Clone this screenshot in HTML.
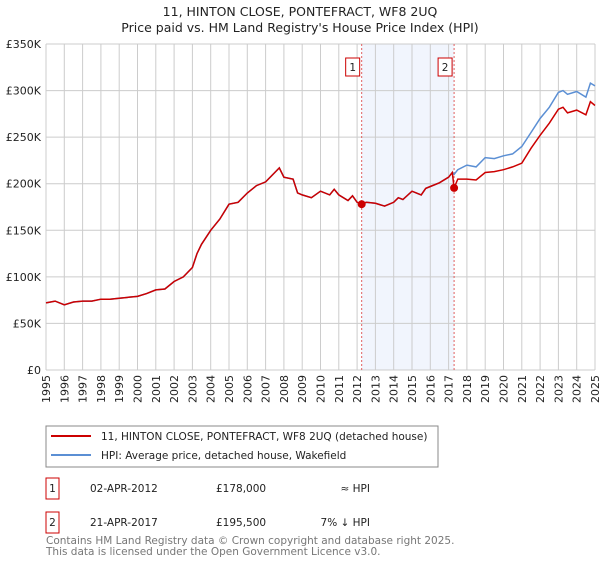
<!DOCTYPE html>
<html><head><meta charset="utf-8"><style>
body{margin:0;background:#fff;font-family:"Liberation Sans","DejaVu Sans",sans-serif;}
svg text{font-family:"DejaVu Sans","Liberation Sans",sans-serif;}
</style></head><body>
<svg id="c" width="600" height="560" viewBox="0 0 600 560" xmlns="http://www.w3.org/2000/svg">
<text x="300" y="16" text-anchor="middle" font-size="12.5" fill="#222">11, HINTON CLOSE, PONTEFRACT, WF8 2UQ</text>
<text x="300" y="32" text-anchor="middle" font-size="12.5" fill="#222">Price paid vs. HM Land Registry's House Price Index (HPI)</text>
<g id="grid"></g><g id="marks"></g>
<g>
<rect x="46" y="426" width="392" height="41" fill="#fff" stroke="#888"/>
<line x1="51" y1="436" x2="91" y2="436" stroke="#cc0000" stroke-width="2"/>
<text x="101" y="440" font-size="10.5" fill="#222">11, HINTON CLOSE, PONTEFRACT, WF8 2UQ (detached house)</text>
<line x1="51" y1="455" x2="91" y2="455" stroke="#5b8fd4" stroke-width="2"/>
<text x="101" y="459" font-size="10.5" fill="#222">HPI: Average price, detached house, Wakefield</text>
</g>
<g font-size="10.5" fill="#222">
<rect x="46" y="478" width="13" height="21" fill="#fff" stroke="#cc0000"/><text x="52.5" y="492" text-anchor="middle">1</text>
<text x="90" y="492">02-APR-2012</text><text x="216" y="492">£178,000</text><text x="370" y="492" text-anchor="end">≈ HPI</text>
<rect x="46" y="512" width="13" height="21" fill="#fff" stroke="#cc0000"/><text x="52.5" y="526" text-anchor="middle">2</text>
<text x="90" y="526">21-APR-2017</text><text x="216" y="526">£195,500</text><text x="370" y="526" text-anchor="end">7% ↓ HPI</text>
</g>
<text x="46" y="544" font-size="10.5" fill="#777">Contains HM Land Registry data © Crown copyright and database right 2025.</text>
<text x="46" y="555" font-size="10.5" fill="#777">This data is licensed under the Open Government Licence v3.0.</text>
</svg>
<script>
const dates=[1995,1995.5,1996,1996.5,1997,1997.5,1998,1998.5,1999,1999.5,2000,2000.5,2001,2001.5,2002,2002.5,2003,2003.25,2003.5,2004,2004.5,2005,2005.5,2006,2006.5,2007,2007.5,2007.75,2008,2008.5,2008.75,2009,2009.5,2010,2010.5,2010.75,2011,2011.5,2011.75,2012,2012.25,2012.5,2013,2013.5,2014,2014.25,2014.5,2015,2015.5,2015.75,2016,2016.5,2017,2017.2,2017.3,2017.5,2018,2018.5,2019,2019.5,2020,2020.5,2021,2021.5,2022,2022.5,2023,2023.25,2023.5,2024,2024.5,2024.75,2025];
const hpiValues=[72,74,70,73,74,74,76,76,77,78,79,82,86,87,95,100,110,125,135,150,162,178,180,190,198,202,212,217,207,205,190,188,185,192,188,194,188,182,187,180,178,180,179,176,180,185,183,192,188,195,197,201,207,212,210,215,220,218,228,227,230,232,240,255,270,282,298,300,296,299,293,308,305];
const priceValues=[72,74,70,73,74,74,76,76,77,78,79,82,86,87,95,100,110,125,135,150,162,178,180,190,198,202,212,217,207,205,190,188,185,192,188,194,188,182,187,180,178,180,179,176,180,185,183,192,188,195,197,201,207,212,195.5,205,205,204,212,213,215,218,222,238,252,265,280,282,276,279,274,288,284];
const saleDates=[2012.25,2017.3];
const saleValues=[178,195.5];
const saleLabels=["1","2"];
const yTicks=[0,50,100,150,200,250,300,350];
const yTickLabels=["£0","£50K","£100K","£150K","£200K","£250K","£300K","£350K"];
const xTicks=[1995,1996,1997,1998,1999,2000,2001,2002,2003,2004,2005,2006,2007,2008,2009,2010,2011,2012,2013,2014,2015,2016,2017,2018,2019,2020,2021,2022,2023,2024,2025];
const NS="http://www.w3.org/2000/svg";
const X0=46,X1=595,Y0=370,Y1=44;
const xs=d=>X0+(d-1995)/30*(X1-X0);
const ys=v=>Y0-v/350*(Y0-Y1);
function mk(t,a,p){const e=document.createElementNS(NS,t);for(const k in a)e.setAttribute(k,a[k]);p.appendChild(e);return e;}
const g=document.getElementById('grid'),m=document.getElementById('marks');
const sh=mk('rect',{x:xs(saleDates[0]),y:Y1,width:xs(saleDates[1])-xs(saleDates[0]),height:Y0-Y1,fill:'#eef3fc',opacity:0.8},g);


yTicks.forEach((v,i)=>{
 const l=mk('line',{x1:X0,x2:X1,y1:ys(v),y2:ys(v),stroke:'#ccc'},g);
 
 
 const t=mk('text',{x:X0-5,y:ys(v)+4,'text-anchor':'end','font-size':'11',fill:'#222'},g);
 
 
 t.textContent=yTickLabels[i];
});
xTicks.forEach(d=>{
 const l=mk('line',{x1:xs(d),x2:xs(d),y1:Y1,y2:Y0,stroke:'#ccc'},g);
 
 
 const t=mk('text',{x:0,y:0,transform:`translate(${xs(d)+4},${Y0+5}) rotate(-90)`,'text-anchor':'end','font-size':'11',fill:'#222'},g);
 
 
 t.textContent=d;
});
saleDates.forEach((d,i)=>{
 const l=mk('line',{x1:xs(d),x2:xs(d),y1:Y1,y2:Y0,stroke:'#e06060','stroke-dasharray':'2,2'},m);
 
 
 const r=mk('rect',{x:xs(d)-16,y:58,width:14,height:18,fill:'#fff',stroke:'#cc0000'},m);
 
 
 const t=mk('text',{x:xs(d)-9,y:71,'text-anchor':'middle','font-size':'10.5',fill:'#222'},m);
 
 
 t.textContent=saleLabels[i];
});
function path(vals){return dates.map((d,i)=>(i?'L':'M')+xs(d).toFixed(1)+','+ys(vals[i]).toFixed(1)).join('');}
const hp=mk('path',{d:path(hpiValues),fill:'none',stroke:'#5b8fd4','stroke-width':1.5},m);


const pp=mk('path',{d:path(priceValues),fill:'none',stroke:'#cc0000','stroke-width':1.5},m);


saleDates.forEach((d,i)=>{
 const c=mk('circle',{cx:xs(d),cy:ys(saleValues[i]),r:4,fill:'#cc0000'},m);
 
 
});
</script>
</body></html>
